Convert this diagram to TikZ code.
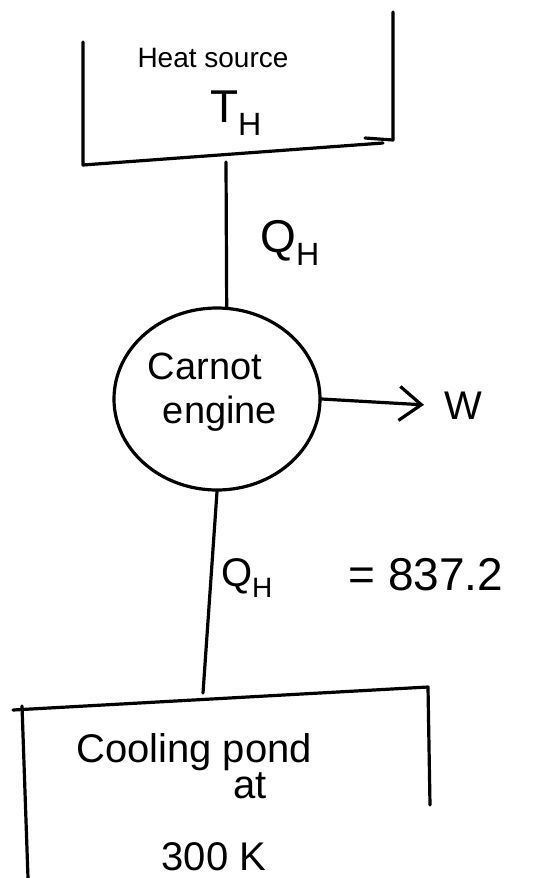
\documentclass[tikz,border=0pt]{standalone}
\usepackage{fontspec}
\setmainfont{Liberation Sans}
\usetikzlibrary{shapes.geometric,arrows.meta}
\begin{document}
\begin{tikzpicture}[x=1pt,y=-1pt,
  ln/.style={line width=3.2pt,line cap=round,line join=round},
  lbl/.style={inner sep=0pt,anchor=center},
  fs/.style={font=\fontsize{#1}{#1}\selectfont}]
\useasboundingbox (0,0) rectangle (554,878);
% heat source bracket
\coordinate (hsTL) at (83,42);
\coordinate (hsBL) at (83,165);
\coordinate (hsBR) at (383,143);
\coordinate (hsHk) at (365,138);
\coordinate (hsCR) at (393,140);
\coordinate (hsTR) at (393,12);
\draw[ln] (hsTL) -- (hsBL) -- (hsBR);
\draw[ln] (hsHk) -- (hsCR) -- (hsTR);
\coordinate (hsOut) at (226,162);
\node[lbl,fs=28] (hs) at (213,58) {Heat source};
\node[lbl,fs=46] (th) at (236,113) {T\textsubscript{H}};
% engine
\node[ellipse,draw,ln,minimum width=206pt,minimum height=182pt,inner sep=0pt] (eng) at (217,399) {};
\node[lbl,fs=38] (carnot) at (205,366) {Carnot};
\node[lbl,fs=38] (engine) at (220,414) {engine};
\draw[ln] (hsOut) -- (eng.84);
\node[lbl,fs=46] (qh1) at (290,243) {Q\textsubscript{H}};
% work
\node[lbl,fs=40] (w) at (463,406) {W};
\draw[ln,shorten >=20pt,-{Straight Barb[length=22pt,width=34pt,line width=3.2pt]}] (eng.east) -- (w.west);
% bottom
\coordinate (cpIn) at (203,693);
\draw[ln] (eng.south) -- (cpIn);
\node[lbl,fs=40] (qh2) at (247,578) {Q\textsubscript{H}};
\node[lbl,fs=46] (val) at (426,575) {= 837.2};
% cooling pond bracket
\coordinate (cpTL) at (13,710);
\coordinate (cpTR) at (428,687);
\coordinate (cpL1) at (22,706);
\coordinate (cpL2) at (28,878);
\coordinate (cpR2) at (430,805);
\draw[ln] (cpTL) -- (cpTR) -- (cpR2);
\draw[ln] (cpL1) -- (cpL2);
\node[lbl,fs=40] (cp) at (194,752) {Cooling pond};
\node[lbl,fs=40] (at) at (250,786) {at};
\node[lbl,fs=40] (temp) at (214,857) {300 K};
\end{tikzpicture}
\end{document}
